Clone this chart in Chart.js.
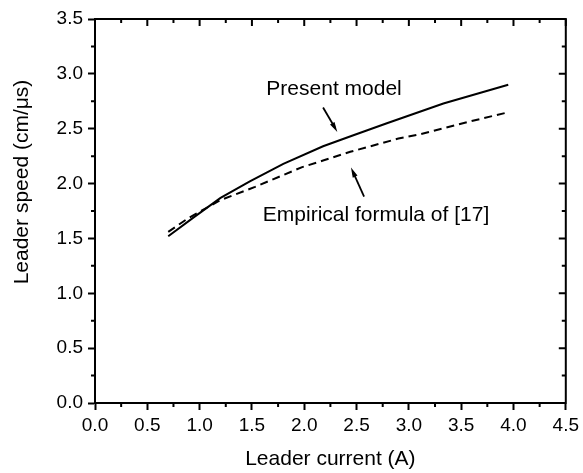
<!DOCTYPE html>
<html lang="en">
  <head>
    <meta charset="UTF-8" />
    <title>Leader speed vs current</title>
    <script src="https://cdn.jsdelivr.net/npm/chart.js"></script>
    <style>
      body {
        margin: 0;
        background: #ffffff;
      }
      canvas {
        display: block;
      }
    </style>
  </head>
  <body>
    <canvas id="speedChart" width="583" height="473"></canvas>

    <script>
      // Present model (solid)
      const modelCurrent = [0.7, 0.94, 1.2, 1.48, 1.8, 2.18, 2.47, 2.79, 3.33, 3.95];
      const modelSpeed = [1.52, 1.69, 1.87, 2.02, 2.18, 2.34, 2.44, 2.55, 2.73, 2.9];

      // Empirical formula of [17] (dashed)
      const empCurrent = [0.7, 0.9, 1.2, 1.53, 1.98, 2.18, 2.44, 2.9, 3.11, 3.6, 3.95];
      const empSpeed = [1.56, 1.69, 1.85, 1.97, 2.15, 2.21, 2.29, 2.41, 2.45, 2.57, 2.65];

      // text labels with arrows (data coordinates)
      const noteText = ["Present model", "Empirical formula of [17]"];
      const noteX = [2.285, 2.686];
      const noteY = [2.86, 1.71];
      const arrowFromX = [2.18, 2.572];
      const arrowFromY = [2.694, 1.881];
      const arrowToX = [2.316, 2.447];
      const arrowToY = [2.471, 2.146];

      const xTitle = "Leader current (A)";
      const yTitle = "Leader speed (cm/\u03bcs)";

      const FONT = "'Liberation Sans', Arial, sans-serif";

      function toPoints(xs, ys) {
        return xs.map((x, i) => ({ x: x, y: ys[i] }));
      }

      // frame, minor ticks, inward top/right ticks, titles and notes
      const framePlugin = {
        id: "frame",
        afterDraw(chart) {
          const ctx = chart.ctx;
          const a = chart.chartArea;
          const xs = chart.scales.x;
          const ys = chart.scales.y;
          ctx.save();
          ctx.strokeStyle = "#000";
          ctx.lineWidth = 2;
          ctx.strokeRect(a.left, a.top, a.right - a.left, a.bottom - a.top);

          const xMajor = xs.ticks.map((t) => t.value);
          const yMajor = ys.ticks.map((t) => t.value);
          ctx.beginPath();
          xMajor.forEach((v, i) => {
            const p = xs.getPixelForValue(v);
            ctx.moveTo(p, a.top);
            ctx.lineTo(p, a.top + 7);
            if (i < xMajor.length - 1) {
              const m = xs.getPixelForValue((v + xMajor[i + 1]) / 2);
              ctx.moveTo(m, a.top);
              ctx.lineTo(m, a.top + 4);
              ctx.moveTo(m, a.bottom);
              ctx.lineTo(m, a.bottom + 4);
            }
          });
          yMajor.forEach((v, i) => {
            const p = ys.getPixelForValue(v);
            ctx.moveTo(a.right, p);
            ctx.lineTo(a.right - 7, p);
            if (i < yMajor.length - 1) {
              const m = ys.getPixelForValue((v + yMajor[i + 1]) / 2);
              ctx.moveTo(a.right, m);
              ctx.lineTo(a.right - 4, m);
              ctx.moveTo(a.left, m);
              ctx.lineTo(a.left - 4, m);
            }
          });
          ctx.stroke();

          // axis titles
          ctx.fillStyle = "#000";
          ctx.font = "21px " + FONT;
          ctx.textAlign = "center";
          ctx.textBaseline = "middle";
          ctx.fillText(xTitle, (a.left + a.right) / 2, 459);
          ctx.save();
          ctx.translate(22, 182);
          ctx.rotate(-Math.PI / 2);
          ctx.fillText(yTitle, 0, 0);
          ctx.restore();

          // notes with arrows
          noteText.forEach((txt, i) => {
            ctx.fillText(txt, xs.getPixelForValue(noteX[i]), ys.getPixelForValue(noteY[i]));
            const x0 = xs.getPixelForValue(arrowFromX[i]);
            const y0 = ys.getPixelForValue(arrowFromY[i]);
            const x1 = xs.getPixelForValue(arrowToX[i]);
            const y1 = ys.getPixelForValue(arrowToY[i]);
            const ang = Math.atan2(y1 - y0, x1 - x0);
            ctx.lineWidth = 1.8;
            ctx.beginPath();
            ctx.moveTo(x0, y0);
            ctx.lineTo(x1 - 5 * Math.cos(ang), y1 - 5 * Math.sin(ang));
            ctx.stroke();
            ctx.beginPath();
            ctx.moveTo(x1, y1);
            ctx.lineTo(x1 - 10 * Math.cos(ang) + 2.6 * Math.sin(ang), y1 - 10 * Math.sin(ang) - 2.6 * Math.cos(ang));
            ctx.lineTo(x1 - 10 * Math.cos(ang) - 2.6 * Math.sin(ang), y1 - 10 * Math.sin(ang) + 2.6 * Math.cos(ang));
            ctx.closePath();
            ctx.fill();
          });
          ctx.restore();
        },
      };

      const ctx = document.getElementById("speedChart").getContext("2d");
      new Chart(ctx, {
        type: "scatter",
        data: {
          datasets: [
            {
              label: "Present model",
              data: toPoints(modelCurrent, modelSpeed),
              showLine: true,
              borderColor: "#000",
              borderWidth: 2,
              pointRadius: 0,
              tension: 0,
            },
            {
              label: "Empirical formula of [17]",
              data: toPoints(empCurrent, empSpeed),
              showLine: true,
              borderColor: "#000",
              borderWidth: 2,
              borderDash: [8, 5],
              pointRadius: 0,
              tension: 0,
            },
          ],
        },
        options: {
          responsive: false,
          animation: false,
          devicePixelRatio: 1,
          layout: {
            padding: { top: 19, right: 17, left: 0, bottom: 0 },
          },
          plugins: {
            legend: { display: false },
            tooltip: { enabled: false },
          },
          scales: {
            x: {
              type: "linear",
              min: 0,
              max: 4.5,
              afterFit: (s) => {
                s.height = 70;
              },
              ticks: {
                stepSize: 0.5,
                padding: 4,
                color: "#000",
                maxRotation: 0,
                font: { family: FONT, size: 19 },
                callback: (v) => v.toFixed(1),
              },
              grid: {
                drawOnChartArea: false,
                tickLength: 7,
                tickWidth: 2,
                tickColor: "#000",
              },
              border: { color: "#000", width: 2 },
            },
            y: {
              min: 0,
              max: 3.5,
              afterFit: (s) => {
                s.width = 95;
              },
              ticks: {
                stepSize: 0.5,
                padding: 5,
                color: "#000",
                font: { family: FONT, size: 19 },
                callback: (v) => v.toFixed(1),
              },
              grid: {
                drawOnChartArea: false,
                tickLength: 7,
                tickWidth: 2,
                tickColor: "#000",
              },
              border: { color: "#000", width: 2 },
            },
          },
        },
        plugins: [framePlugin],
      });
    </script>
  </body>
</html>
